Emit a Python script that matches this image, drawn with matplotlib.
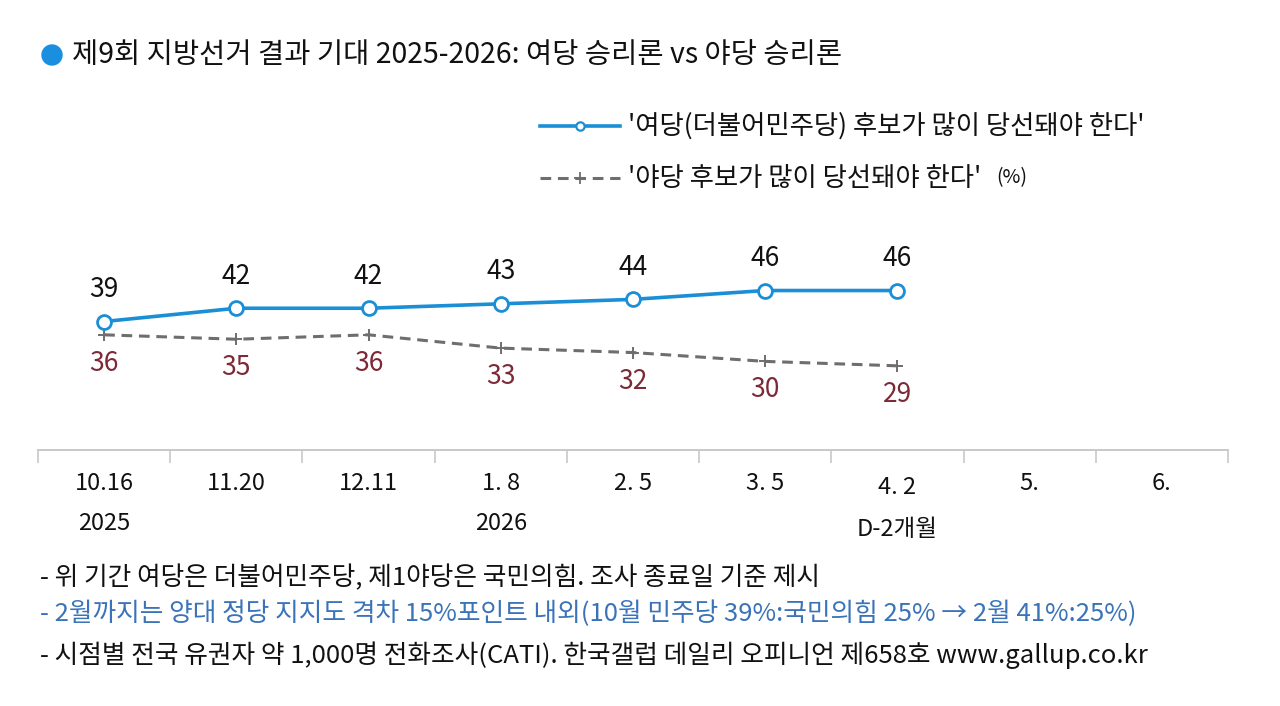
import matplotlib
matplotlib.use("Agg")
import matplotlib.pyplot as plt
from matplotlib.lines import Line2D
from matplotlib.patches import Ellipse

plt.rcParams["font.family"] = ["Noto Sans CJK KR", "DejaVu Sans"]

# ---------------------------------------------------------------- data
dates = ["10.16", "11.20", "12.11", "1. 8", "2. 5", "3. 5", "4. 2", "5.", "6."]
years = ["2025", "", "", "2026", "", "", "D-2개월", "", ""]
ruling = [39, 42, 42, 43, 44, 46, 46]
opposition = [36, 35, 36, 33, 32, 30, 29]

title = "제9회 지방선거 결과 기대 2025-2026: 여당 승리론 vs 야당 승리론"
legend_ruling = "'여당(더불어민주당) 후보가 많이 당선돼야 한다'"
legend_opp = "'야당 후보가 많이 당선돼야 한다'"
notes = [
    "- 위 기간 여당은 더불어민주당, 제1야당은 국민의힘. 조사 종료일 기준 제시",
    "- 2월까지는 양대 정당 지지도 격차 15%포인트 내외(10월 민주당 39%:국민의힘 25% → 2월 41%:25%)",
    "- 시점별 전국 유권자 약 1,000명 전화조사(CATI). 한국갤럽 데일리 오피니언 제658호 www.gallup.co.kr",
]

BLUE = "#1b8fd6"
GRAY = "#6e6e6e"
RED_TXT = "#7b2a36"

W, H = 1280, 706
fig = plt.figure(figsize=(W / 100, H / 100), dpi=100)
fig.patch.set_facecolor("white")


def fx(px):
    return px / W


def fy(py):
    return 1 - py / H


# axes: x from 38 to 1228 px, bottom line at 450 px
ax = fig.add_axes([fx(38), fy(450), fx(1228 - 38), (450 - 240) / H])
n = len(dates)
ax.set_xlim(0, n)
ax.set_ylim(10, 10 + (450 - 240) / 4.43)
xs = [i + 0.5 for i in range(len(ruling))]

ax.plot(xs, ruling, color=BLUE, lw=2.6, marker="o", ms=10, mfc="white",
        mec=BLUE, mew=2, zorder=3, clip_on=False)
ax.plot(xs, opposition, color=GRAY, lw=2.2, ls=(0, (3.5, 2.2)), marker="+",
        ms=9, mew=1.4, mec=GRAY, zorder=2, clip_on=False)

for x, v in zip(xs, ruling):
    ax.annotate(str(v), (x, v), xytext=(0, 23), textcoords="offset points",
                ha="center", va="center", fontsize=19, color="#111111")
for x, v in zip(xs, opposition):
    ax.annotate(str(v), (x, v), xytext=(0, -20.5), textcoords="offset points",
                ha="center", va="center", fontsize=19, color=RED_TXT)

for s in ("top", "right", "left"):
    ax.spines[s].set_visible(False)
ax.spines["bottom"].set_color("#c8c8c8")
ax.spines["bottom"].set_linewidth(1.4)
ax.set_yticks([])
ax.set_xticks(range(n + 1))
ax.tick_params(axis="x", length=9, color="#c8c8c8", width=1.2, labelbottom=False)

for i, (d, yr) in enumerate(zip(dates, years)):
    cx = fx(38) + (i + 0.5) * fx(1228 - 38) / n
    fig.text(cx, fy(487 if d == "4. 2" else 483), d,
             ha="center", va="center", fontsize=17, color="#111111")
    if yr:
        fig.text(cx, fy(530 if yr.startswith("D") else 523), yr,
                 ha="center", va="center", fontsize=17, color="#111111")

# title
fig.patches.append(Ellipse((fx(52), fy(55)), 20 / W, 20 / H,
                           transform=fig.transFigure, color="#1a8fe0", figure=fig))
fig.text(fx(72), fy(55), title, ha="left", va="center", fontsize=20.5,
         color="#111111", fontweight="medium")

# legend (manual)
fig.lines.append(Line2D([fx(540), fx(620)], [fy(126), fy(126)], transform=fig.transFigure,
                        color=BLUE, lw=2.6))
fig.lines.append(Line2D([fx(580)], [fy(126)], transform=fig.transFigure, marker="o",
                        ms=6, mfc="white", mec=BLUE, mew=1.6))
fig.lines.append(Line2D([fx(540), fx(620)], [fy(178), fy(178)], transform=fig.transFigure,
                        color=GRAY, lw=2.2, ls=(0, (3.5, 2.2))))
fig.lines.append(Line2D([fx(580)], [fy(178)], transform=fig.transFigure, marker="+",
                        ms=8, mec=GRAY, mew=1.3))
fig.text(fx(628), fy(126), legend_ruling, ha="left", va="center", fontsize=19, color="#111111")
fig.text(fx(628), fy(178), legend_opp, ha="left", va="center", fontsize=19, color="#111111")
fig.text(fx(996), fy(178), "(%)", ha="left", va="center", fontsize=14, color="#111111")

# footnotes
for py, note, c in zip([578, 614, 655], notes, ["#111111", "#3b73b9", "#111111"]):
    fig.text(fx(40), fy(py), note, ha="left", va="center", fontsize=18.5, color=c)

fig.savefig("out.png", dpi=100)
